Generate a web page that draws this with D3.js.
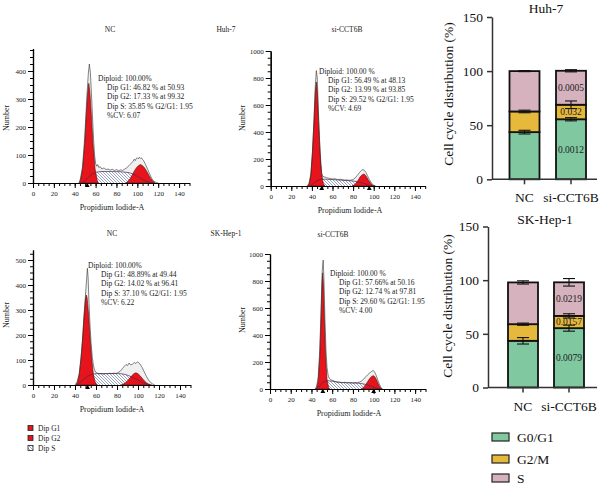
<!DOCTYPE html>
<html><head><meta charset="utf-8">
<script src="https://cdn.jsdelivr.net/npm/d3@7"></script>
<style>body{margin:0;background:#fff} svg{display:block}</style>
</head><body>
<svg id="c" width="600" height="487"></svg>
<script>
// ---------- DATA ----------
const histXTicks = [0,20,40,60,80,100,120,140];
const yTicksHuh7NC = [0,100,200,300,400];
const yTicksHuh7Si = [0,200,400,600,800,1000];
const yTicksSkNC = [0,100,200,300,400,500];
const yTicksSkSi = [0,200,400,600,800,1000];

const huh7NC_raw = [[44,0],[45.5,15],[47.5,60],[49.5,160],[51.5,300],[53,390],[54,425],[55,395],[56,320],[57,240],[58,160],[59,100],[60,70],[61,60],[62,66],[63,56],[64.5,58],[66,50],[68,54],[70,48],[72,50],[74,46],[76,49],[78,45],[80,48],[82,44],[84,47],[86,45],[88,50],[90,55],[92,62],[94,70],[96,78],[97,85],[98,80],[99,88],[100,90],[101,86],[102,92],[103,88],[104,90],[105,84],[106,80],[108,65],[110,48],[112,30],[114,15],[116,6],[118,2],[120,0]];
const huh7NC_g1 = [[44.5,0],[45.5,10],[47.5,50],[49.5,140],[51.5,270],[52.5,325],[53.5,356],[54.5,325],[55.5,270],[57.5,140],[59.5,50],[61.5,10],[62.5,0]];
const huh7NC_g2 = [[89,0],[91,6],[93,15],[95,28],[97,42],[99,54],[101,62],[103,66],[105,62],[107,54],[109,42],[111,28],[113,15],[115,6],[117,0]];
const huh7NC_s = [[47,0],[50,8],[53,20],[56,30],[60,38],[65,41],[75,41],[85,40],[92,37],[96,32],[100,24],[104,15],[108,7],[112,2],[115,0]];

const huh7Si_raw = [[35,0],[37,15],[39,80],[40.5,240],[42,480],[43.3,740],[44.3,855],[45.2,800],[46.3,560],[47.5,320],[48.5,160],[49.5,95],[50.5,72],[52,68],[54,62],[56,58],[58,55],[60,52],[62,54],[64,50],[66,48],[68,50],[70,46],[72,44],[74,45],[76,42],[78,44],[80,48],[82,60],[84,78],[86,98],[88,115],[89.5,122],[91,115],[92.5,100],[94,75],[96,45],[98,20],[100,6],[102,0]];
const huh7Si_g1 = [[36,0],[37.5,20],[39,90],[40.5,250],[42,480],[43.3,700],[44.3,770],[45.3,700],[46.5,480],[48,250],[49.5,90],[51,20],[52.5,0]];
const huh7Si_g2 = [[79,0],[81,8],[83,22],[85,45],[87,70],[89,84],[90.2,88],[91.5,84],[93,68],[95,42],[97,20],[99,6],[101,0]];
const huh7Si_s = [[38,0],[41,15],[44,35],[48,50],[55,50],[65,45],[75,40],[82,35],[88,25],[93,12],[97,3],[99,0]];

const skNC_raw = [[40,0],[42,12],[44,45],[46,120],[47.5,200],[49,300],[50.3,380],[51,420],[51.8,467],[52.5,430],[53.3,330],[54.3,240],[55.3,170],[56.5,110],[57.5,80],[58.5,62],[59.5,52],[61,48],[63,44],[65,46],[67,43],[69,46],[71,44],[73,47],[75,45],[77,48],[79,46],[81,50],[83,55],[85,65],[87,75],[88.5,82],[90,78],[91.5,88],[93,80],[95,84],[96.5,90],[98,86],[99.5,93],[101,88],[102.5,80],[104,70],[106,52],[108,35],[110,20],[112,10],[114,4],[116,0]];
const skNC_g1 = [[41,0],[42.5,13],[44,41],[45.5,96],[47,171],[48.5,270],[50,345],[50.7,360],[51.5,350],[53,280],[54.5,180],[56,100],[57.5,43],[59,14],[60.5,3],[61.5,0]];
const skNC_g2 = [[84,0],[86,4],[88,9],[90,17],[92,27],[94,37],[96,45],[98,49],[100,45],[102,37],[104,27],[106,17],[108,9],[110,4],[112,1],[113,0]];
const skNC_s = [[42,0],[45,10],[48,22],[52,35],[56,43],[62,46],[70,46],[78,46],[84,45],[88,42],[92,36],[96,28],[100,20],[104,11],[108,4],[111,0]];

const skSi_raw = [[43.5,0],[45,20],[46.5,90],[48,290],[49.3,600],[50.4,880],[51.3,955],[52,820],[53,520],[54,290],[55,160],[56,105],[57,82],[58.5,70],[60,64],[62,58],[64,52],[66,50],[68,48],[70,46],[72,50],[74,46],[76,48],[78,46],[80,45],[82,47],[84,46],[86,50],[88,58],[90,70],[92,88],[94,104],[96,118],[98,130],[99.6,138],[101,125],[102.5,100],[104,65],[105.5,35],[107,12],[108.5,0]];
const skSi_g1 = [[44,0],[45,10],[46.5,60],[48,240],[49.3,540],[50.2,790],[50.8,860],[51.4,790],[52.3,560],[53.5,260],[55,70],[56.5,12],[57.5,0]];
const skSi_g2 = [[88,0],[90,10],[92,28],[94,52],[96,76],[98,93],[99.6,99],[101,92],[102.5,72],[104,45],[105.5,20],[107,6],[108,0]];
const skSi_s = [[45,0],[48,25],[51,50],[55,62],[60,58],[65,52],[70,48],[75,46],[80,45],[85,43],[90,38],[94,30],[98,20],[102,8],[105,0]];

const huh7NC_marks = [52];
const huh7Si_marks = [49.5, 95.7];
const skNC_marks = [52];
const skSi_marks = [51, 100];

const huh7NC_text = ["Diploid: 100.00%","Dip G1: 46.82 % at 50.93","Dip G2: 17.33 % at 99.32","Dip S: 35.85 % G2/G1: 1.95","%CV: 6.07"];
const huh7Si_text = ["Diploid: 100.00 %","Dip G1: 56.49 % at 48.13","Dip G2: 13.99 % at 93.85","Dip S: 29.52 % G2/G1: 1.95","%CV: 4.69"];
const skNC_text = ["Diploid: 100.00%","Dip G1: 48.89% at 49.44","Dip G2: 14.02 % at 96.41","Dip S: 37.10 % G2/G1: 1.95","%CV: 6.22"];
const skSi_text = ["Diploid: 100.00 %","Dip G1: 57.66% at 50.16","Dip G2: 12.74 % at 97.81","Dip S: 29.60 % G2/G1: 1.95","%CV: 4.00"];

const histLegend = ["Dip G1","Dip G2","Dip S"];

const barGroups = ["NC","si-CCT6B"];
const phases = ["G0/G1","G2/M","S"];
const huh7_G0G1 = [43.6, 55.5];
const huh7_G2M  = [19.1, 13.4];
const huh7_S    = [37.3, 31.4];
const huh7_G0G1_err = [1.7, 1.5];
const huh7_G2M_err  = [1.2, 3.5];
const huh7_S_err    = [0.5, 1.0];
const huh7_p = ["0.0012","0.032","0.0005"];
const sk_G0G1 = [43.5, 55.3];
const sk_G2M  = [15.5, 11.4];
const sk_S    = [38.9, 31.3];
const sk_G0G1_err = [3.0, 2.8];
const sk_G2M_err  = [1.0, 2.0];
const sk_S_err    = [1.5, 3.5];
const sk_p = ["0.0079","0.0157","0.0219"];
const barYTicks = [0,50,100,150];

// ---------- STYLE ----------
const SERIF = "'Liberation Serif','Times New Roman',serif";
const RED = "#e8141c";
const phaseColors = ["#80c8a0","#e6b83c","#d6b2be"];

const svg = d3.select("#c");
const defs = svg.append("defs");
const pat = defs.append("pattern").attr("id","hatch").attr("patternUnits","userSpaceOnUse")
  .attr("width",3).attr("height",3);
pat.append("rect").attr("width",3).attr("height",3).attr("fill","#fff");
pat.append("path").attr("d","M0,0L3,3M-1,2L1,4M2,-1L4,1").attr("stroke","#4a5a8c").attr("stroke-width",0.55);

function histPanel(cfg) {
  const g = svg.append("g");
  const xs = d3.scaleLinear().domain([0,150]).range(cfg.xr);
  const ys = d3.scaleLinear().domain([0,cfg.ymax]).range(cfg.yr);
  const area = d3.area().x(d=>xs(d[0])).y0(ys(0)).y1(d=>ys(d[1]));
  const line = d3.line().x(d=>xs(d[0])).y(d=>ys(d[1]));
  g.append("path").attr("d",area(cfg.raw)).attr("fill","#f0f0f0");
  g.append("path").attr("d",area(cfg.s)).attr("fill","url(#hatch)");
  [cfg.g1,cfg.g2].forEach(p=>{
    g.append("path").attr("d",area(p)).attr("fill",RED).attr("stroke","#5a0a0a").attr("stroke-width",0.6);
  });
  g.append("path").attr("d",line(cfg.s)).attr("fill","none").attr("stroke","#4a2850").attr("stroke-width",0.7);
  g.append("path").attr("d",line(cfg.raw)).attr("fill","none").attr("stroke","#333").attr("stroke-width",0.6);
  const fmt = d3.format("d");
  const yMinor = d3.axisLeft(ys).tickValues(d3.range(0,cfg.ymax+0.1,cfg.yMinorStep)).tickSize(3).tickFormat("").tickSizeOuter(0);
  const yMajor = d3.axisLeft(ys).tickValues(cfg.yTicks).tickSize(5).tickPadding(2).tickFormat(fmt).tickSizeOuter(0);
  const xMinor = d3.axisBottom(xs).tickValues(d3.range(0,150.1,5)).tickSize(3).tickFormat("").tickSizeOuter(0);
  const xMajor = d3.axisBottom(xs).tickValues(histXTicks).tickSize(5).tickPadding(3).tickFormat(fmt).tickSizeOuter(0);
  [yMinor,yMajor].forEach(a=>g.append("g").attr("transform",`translate(${cfg.xr[0]},0)`).call(a));
  [xMinor,xMajor].forEach(a=>g.append("g").attr("transform",`translate(0,${cfg.yr[0]})`).call(a));
  g.selectAll(".domain").attr("stroke","#000").attr("stroke-width",1.2);
  g.selectAll(".tick line").attr("stroke","#000").attr("stroke-width",1);
  g.selectAll(".tick text").attr("font-family",SERIF).attr("font-size",7).attr("fill","#222");
  g.selectAll(".mk").data(cfg.marks).enter().append("path")
    .attr("d",d3.symbol(d3.symbolTriangle,10))
    .attr("transform",d=>`translate(${xs(d)},${cfg.yr[0]+2.5})`).attr("fill","#000");
  g.append("text").attr("x",cfg.xlab[0]).attr("y",cfg.xlab[1]).attr("dy","0.35em").attr("text-anchor","middle")
    .attr("font-family",SERIF).attr("font-size",8).attr("fill","#222").text("Propidium Iodide-A");
  g.append("text").attr("transform",`translate(${cfg.ylab[0]},${cfg.ylab[1]}) rotate(-90)`).attr("dy","0.35em").attr("text-anchor","middle")
    .attr("font-family",SERIF).attr("font-size",8).attr("fill","#222").text("Number");
  cfg.titles.forEach(t=>{
    g.append("text").attr("x",t[0]).attr("y",t[1]).attr("dy","0.35em").attr("text-anchor","middle")
      .attr("font-family",SERIF).attr("font-size",7.5).attr("fill","#222").text(t[2]);
  });
  cfg.text.forEach((t,i)=>{
    g.append("text").attr("x",i===0?cfg.tpos[0]:cfg.tpos[1]).attr("y",cfg.tpos[2]+i*9.3).attr("dy","0.35em")
      .attr("font-family",SERIF).attr("font-size",7.5).attr("fill","#222").text(t);
  });
}

histPanel({xr:[33,189.5], yr:[183,48.6], ymax:480, yMinorStep:25, yTicks:yTicksHuh7NC,
  raw:huh7NC_raw, g1:huh7NC_g1, g2:huh7NC_g2, s:huh7NC_s, marks:huh7NC_marks,
  xlab:[112,207], ylab:[6,118], titles:[[110,29,"NC"]], text:huh7NC_text, tpos:[98,107,78]});
histPanel({xr:[270.7,425.2], yr:[186,51], ymax:1000, yMinorStep:50, yTicks:yTicksHuh7Si,
  raw:huh7Si_raw, g1:huh7Si_g1, g2:huh7Si_g2, s:huh7Si_s, marks:huh7Si_marks,
  xlab:[350,210], ylab:[242,118], titles:[[226,29,"Huh-7"],[347,29,"si-CCT6B"]], text:huh7Si_text, tpos:[319,328,71]});
histPanel({xr:[33,190.5], yr:[385,250], ymax:540, yMinorStep:25, yTicks:yTicksSkNC,
  raw:skNC_raw, g1:skNC_g1, g2:skNC_g2, s:skNC_s, marks:skNC_marks,
  xlab:[112,409], ylab:[6,315], titles:[[112,233,"NC"]], text:skNC_text, tpos:[88,101,265]});
histPanel({xr:[270,425.5], yr:[389,254], ymax:1000, yMinorStep:50, yTicks:yTicksSkSi,
  raw:skSi_raw, g1:skSi_g1, g2:skSi_g2, s:skSi_s, marks:skSi_marks,
  xlab:[349,413], ylab:[242,320], titles:[[226,233,"SK-Hep-1"],[333,234,"si-CCT6B"]], text:skSi_text, tpos:[330,339,273]});

const hl = svg.append("g");
histLegend.forEach((t,i)=>{
  const y = 428 + i*10;
  hl.append("rect").attr("x",28).attr("y",y-2.5).attr("width",5).attr("height",5)
    .attr("fill", i<2?RED:"url(#hatch)").attr("stroke","#222").attr("stroke-width",0.8);
  hl.append("text").attr("x",38).attr("y",y).attr("dy","0.35em").attr("font-family",SERIF)
    .attr("font-size",7.5).attr("fill","#222").text(t);
});

// ---------- BAR CHARTS ----------
function barChart(cfg) {
  const g = svg.append("g");
  const ys = d3.scaleLinear().domain([0,150]).range(cfg.yr);
  const xs = d3.scalePoint().domain(barGroups).range(cfg.centers);
  const series = [cfg.g0, cfg.g2m, cfg.s];
  const errs = [cfg.e0, cfg.e2m, cfg.es];
  const bw = 30;
  barGroups.forEach((grp,i)=>{
    let base = 0;
    series.forEach((ser,k)=>{
      const top = base + ser[i];
      g.append("rect").attr("x",xs(grp)-bw/2).attr("y",ys(top)).attr("width",bw).attr("height",ys(base)-ys(top))
        .attr("fill",phaseColors[k]).attr("stroke","#111").attr("stroke-width",1.8);
      base = top;
    });
  });
  barGroups.forEach((grp,i)=>{
    let base = 0;
    series.forEach((ser,k)=>{
      const top = base + ser[i];
      const e = errs[k][i];
      const cx = xs(grp);
      g.append("line").attr("x1",cx).attr("x2",cx).attr("y1",ys(top-e)).attr("y2",ys(top+e)).attr("stroke","#111").attr("stroke-width",1.1);
      [top-e, top+e].forEach(v=>g.append("line").attr("x1",cx-6).attr("x2",cx+6).attr("y1",ys(v)).attr("y2",ys(v)).attr("stroke","#111").attr("stroke-width",1.1));
      base = top;
    });
  });
  let base = 0;
  series.forEach((ser,k)=>{
    const top = base + ser[1];
    g.append("text").attr("x",xs(barGroups[1])).attr("y",ys((base+top)/2)).attr("dy","0.35em").attr("text-anchor","middle")
      .attr("font-family",SERIF).attr("font-size",9.5).attr("fill","#222").text(cfg.p[k]);
    base = top;
  });
  const ya = d3.axisLeft(ys).tickValues(barYTicks).tickSize(5).tickPadding(4).tickSizeOuter(0);
  g.append("g").attr("transform",`translate(${cfg.ax},0)`).call(ya);
  g.append("line").attr("x1",cfg.ax).attr("x2",597).attr("y1",ys(0)).attr("y2",ys(0)).attr("stroke","#333").attr("stroke-width",1.5);
  barGroups.forEach(grp=>{
    g.append("line").attr("x1",xs(grp)).attr("x2",xs(grp)).attr("y1",ys(0)).attr("y2",ys(0)+5).attr("stroke","#333").attr("stroke-width",1.5);
    g.append("text").attr("x",xs(grp)).attr("y",cfg.labY).attr("text-anchor","middle")
      .attr("font-family",SERIF).attr("font-size",13.5).attr("fill","#111").text(grp);
  });
  g.selectAll(".domain").attr("stroke","#333").attr("stroke-width",1.5);
  g.selectAll(".tick line").attr("stroke","#333").attr("stroke-width",1.5);
  g.selectAll(".tick text").attr("font-family",SERIF).attr("font-size",13.5).attr("fill","#111");
  g.append("text").attr("x",cfg.title[0]).attr("y",cfg.title[1]).attr("text-anchor","middle")
    .attr("font-family",SERIF).attr("font-size",13.5).attr("fill","#111").text(cfg.title[2]);
  g.append("text").attr("transform",`translate(${cfg.ylab[0]},${cfg.ylab[1]}) rotate(-90)`).attr("dy","0.35em").attr("text-anchor","middle")
    .attr("font-family",SERIF).attr("font-size",13.5).attr("fill","#111").text("Cell cycle distribution (%)");
}

barChart({yr:[179.3,17], centers:[524.5,571], ax:492, g0:huh7_G0G1, g2m:huh7_G2M, s:huh7_S,
  e0:huh7_G0G1_err, e2m:huh7_G2M_err, es:huh7_S_err, p:huh7_p, labY:202, title:[546,12.5,"Huh-7"], ylab:[448,94]});
barChart({yr:[387.5,226.5], centers:[523,569], ax:488, g0:sk_G0G1, g2m:sk_G2M, s:sk_S,
  e0:sk_G0G1_err, e2m:sk_G2M_err, es:sk_S_err, p:sk_p, labY:410.5, title:[545,224,"SK-Hep-1"], ylab:[447,306]});

const bl = svg.append("g");
phases.forEach((t,i)=>{
  const y = [437,459,478][i];
  bl.append("rect").attr("x",492).attr("y",y-4).attr("width",17).attr("height",8)
    .attr("fill",phaseColors[i]).attr("stroke","#222").attr("stroke-width",1.2);
  bl.append("text").attr("x",517).attr("y",y).attr("dy","0.35em").attr("font-family",SERIF)
    .attr("font-size",13.5).attr("fill","#111").text(t);
});
</script></body></html>
